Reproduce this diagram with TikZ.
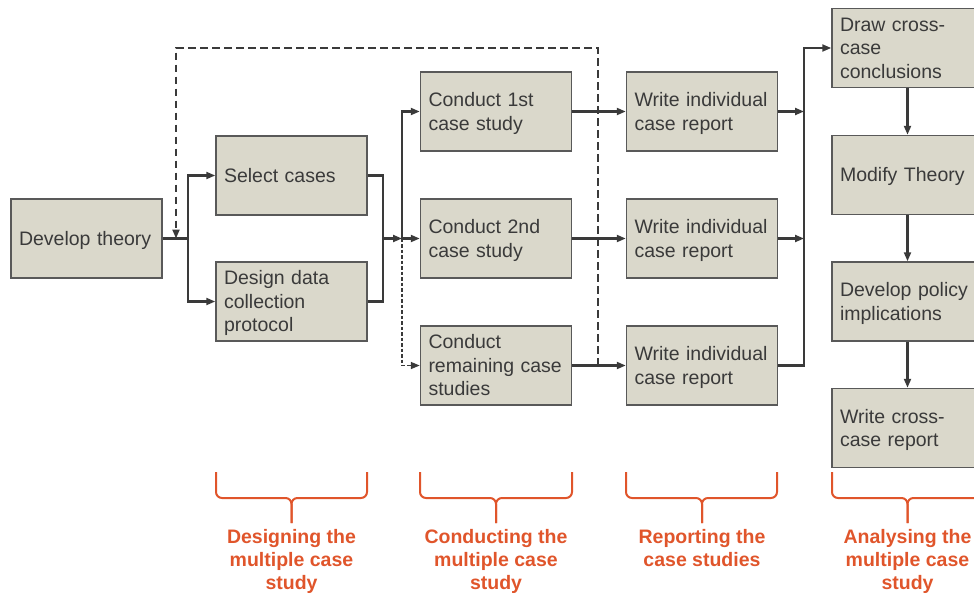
\documentclass[tikz,border=0pt]{standalone}
\usepackage{fontspec}
\setmainfont{Liberation Sans}
\usetikzlibrary{arrows.meta}
\definecolor{boxfill}{HTML}{DAD8CB}
\definecolor{boxline}{HTML}{595959}
\definecolor{ink}{HTML}{3A3A3A}
\definecolor{accent}{HTML}{E0552B}

\begin{document}
\begin{tikzpicture}[x=1pt,y=-1pt,
  stepbox/.style={draw=boxline, line width=1.5pt, fill=boxfill,
    minimum width=151pt, minimum height=79pt, text width=135pt,
    inner xsep=8pt, inner ysep=0pt, align=left, text=ink,
    font=\fontsize{19.5}{23.5}\selectfont,
    execute at begin node={\rule{0pt}{18.5pt}},
    execute at end node={\rule[-5pt]{0pt}{5pt}}},
  wire/.style={draw=ink, line width=2.1pt},
  link/.style={wire, -{Triangle[length=9pt,width=7pt]}},
  loopdash/.style={dash pattern=on 7.5pt off 4.5pt},
  finedash/.style={line width=1.6pt, dash pattern=on 3.5pt off 2pt},
  braced/.style={draw=accent, line width=2pt, rounded corners=6pt},
  phase/.style={text=accent, align=center, inner sep=0pt, anchor=north,
    font=\bfseries\fontsize{19.5}{23}\selectfont}]

\useasboundingbox (0,0) rectangle (974,597);
\clip (0,0) rectangle (974,597);

% process boxes
\node[stepbox] (dev) at (86.5,238.5) {Develop theory};
\node[stepbox] (sel) at (291.5,175.5) {Select cases};
\node[stepbox] (des) at (291.5,301.5) {Design data\\collection\\protocol};
\node[stepbox] (c1) at (496,111.5) {Conduct 1st\\case study};
\node[stepbox] (c2) at (496,238.5) {Conduct 2nd\\case study};
\node[stepbox] (c3) at (496,365.5) {Conduct\\remaining case\\studies};
\node[stepbox] (w1) at (702,111.5) {Write individual\\case report};
\node[stepbox] (w2) at (702,238.5) {Write individual\\case report};
\node[stepbox] (w3) at (702,365.5) {Write individual\\case report};
\node[stepbox] (dc) at (907.5,48) {Draw cross-\\case\\conclusions};
\node[stepbox] (mt) at (907.5,175) {Modify Theory};
\node[stepbox] (dp) at (907.5,301.5) {Develop policy\\implications};
\node[stepbox] (wc) at (907.5,428) {Write cross-\\case report};

% junction points
\coordinate (split) at (188,238.5);
\coordinate (merge) at (383,238.5);
\coordinate (fan) at (402,238.5);
\coordinate (loop) at (598,365.5);
\coordinate (looptop) at (598,48);
\coordinate (loopcorner) at (176,48);
\coordinate (loopin) at (176,238.5);
\coordinate (bus) at (804,48);

% design stage
\draw[wire] (dev.east) -- (split);
\draw[link] (split) |- (sel.west);
\draw[link] (split) |- (des.west);
\draw[wire] (sel.east) -| (merge);
\draw[wire] (des.east) -| (merge);
\draw[link] (merge) -- (fan);

% conducting stage
\draw[link] (fan) |- (c1.west);
\draw[link] (fan) -- (c2.west);
\draw[link, finedash] (fan) |- (c3.west);

% reporting stage
\draw[link] (c1.east) -- (w1.west);
\draw[link] (c2.east) -- (w2.west);
\draw[link] (c3.east) -- (w3.west);

% feedback loop to theory
\draw[link, loopdash] (loop) -- (looptop) -- (loopcorner) -- (loopin);

% analysis stage
\draw[link] (w1.east) -- (w1.east -| bus);
\draw[link] (w2.east) -- (w2.east -| bus);
\draw[link] (w3.east) -| (bus) -- (dc.west);
\draw[link] (dc.south) -- (mt.north);
\draw[link] (mt.south) -- (dp.north);
\draw[link] (dp.south) -- (wc.north);

% phase braces
\foreach \xl/\xc/\xr in {216/291.5/367, 420/496/572, 626/702/777, 832/907.5/983}{
  \draw[braced] (\xl,472) |- (\xc,498) -- (\xc,523);
  \draw[braced] (\xr,472) |- (\xc,498) -- (\xc,523);
}

% phase labels
\node[phase] (p1) at (291.5,529) {Designing the\\multiple case\\study};
\node[phase] (p2) at (496,529) {Conducting the\\multiple case\\study};
\node[phase] (p3) at (702,529) {Reporting the\\case studies};
\node[phase] (p4) at (907.5,529) {Analysing the\\multiple case\\study};
\end{tikzpicture}
\end{document}
